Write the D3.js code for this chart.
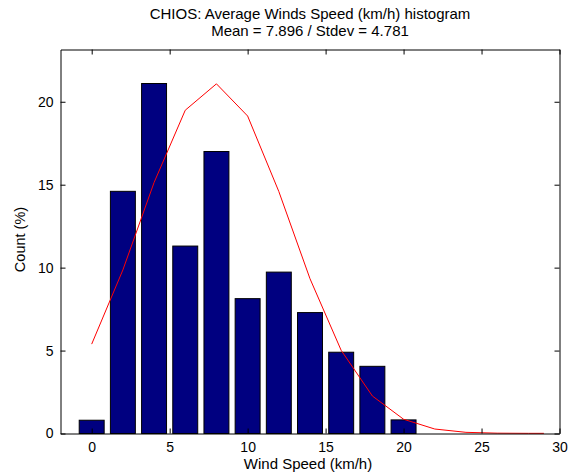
<!DOCTYPE html>
<html><head><meta charset="utf-8">
<script src="https://cdn.jsdelivr.net/npm/d3@7"></script>
<style>
html,body{margin:0;padding:0;background:#fff;}
svg{display:block;}
text{font-family:Arial,"Liberation Sans",Helvetica,sans-serif;}
</style></head><body>
<svg id="c" width="569" height="474"></svg>
<script>
const binCenters = [0, 2, 4, 6, 8, 10, 12, 14, 16, 18, 20];
const counts = [0.8, 14.6, 21.1, 11.3, 17.0, 8.13, 9.73, 7.29, 4.9, 4.05, 0.82];
const fitX = [0, 2, 4, 6, 8, 10, 12, 14, 16, 18, 20, 22, 24, 26, 28, 29];
const fitY = [5.39, 9.86, 15.13, 19.49, 21.08, 19.14, 14.59, 9.33, 5.01, 2.26, 0.86, 0.27, 0.07, 0.02, 0.01, 0.01];
const xTicks = [0, 5, 10, 15, 20, 25, 30];
const yTicks = [0, 5, 10, 15, 20];
const titleLines = ["CHIOS: Average Winds Speed (km/h) histogram", "Mean = 7.896 / Stdev = 4.781"];
const xLabel = "Wind Speed (km/h)";
const yLabel = "Count (%)";

const L = 60.5, R = 559.5, T = 49.5, B = 433.5;
const svg = d3.select("#c");
const x = d3.scaleLinear().domain([-2, 30]).range([L, R]);
const y = d3.scaleLinear().domain([0, 23.15]).range([B, T]);
const barW = x(1.6) - x(0);

// bars
svg.append("g").selectAll("rect").data(binCenters).join("rect")
  .attr("x", (d) => x(d) - barW / 2)
  .attr("y", (d, i) => y(counts[i]))
  .attr("width", barW)
  .attr("height", (d, i) => y(0) - y(counts[i]))
  .attr("fill", "#000080")
  .attr("stroke", "#000")
  .attr("stroke-width", 1);

// fitted line
const line = d3.line().x((d, i) => x(fitX[i])).y((d) => y(d));
svg.append("path").datum(fitY).attr("d", line)
  .attr("fill", "none").attr("stroke", "#ff0000").attr("stroke-width", 1);

// axes
const fs = "14px";
const gB = svg.append("g").attr("transform", `translate(0,${B})`)
  .call(d3.axisBottom(x).tickValues(xTicks).tickSizeInner(-5).tickSizeOuter(0).tickPadding(9));
const gT = svg.append("g").attr("transform", `translate(0,${T})`)
  .call(d3.axisTop(x).tickValues(xTicks).tickSizeInner(-5).tickSizeOuter(0).tickFormat(""));
const gL = svg.append("g").attr("transform", `translate(${L},0)`)
  .call(d3.axisLeft(y).tickValues(yTicks).tickSizeInner(-5).tickSizeOuter(0).tickPadding(7));
const gR = svg.append("g").attr("transform", `translate(${R},0)`)
  .call(d3.axisRight(y).tickValues(yTicks).tickSizeInner(-5).tickSizeOuter(0).tickFormat(""));
[gB, gT, gL, gR].forEach(g => {
  g.selectAll(".domain").attr("stroke", "#000");
  g.selectAll(".tick line").attr("stroke", "#000");
  g.selectAll("text").attr("font-size", fs).attr("fill", "#000")
    .attr("font-family", "Arial,'Liberation Sans',sans-serif");
});

// titles
svg.append("g").selectAll("text").data(titleLines).join("text")
  .attr("x", (L + R) / 2).attr("y", (d, i) => 19 + i * 17)
  .attr("text-anchor", "middle").attr("font-size", "15px").attr("fill", "#000")
  .text(d => d);
svg.append("text").attr("x", (L + R) / 2 - 2).attr("y", 469)
  .attr("text-anchor", "middle").attr("font-size", "15px").attr("fill", "#000").text(xLabel);
svg.append("text").attr("transform", `translate(25,${(T + B) / 2 - 2}) rotate(-90)`)
  .attr("text-anchor", "middle").attr("font-size", "14.5px").attr("fill", "#000").text(yLabel);
</script>
</body></html>
